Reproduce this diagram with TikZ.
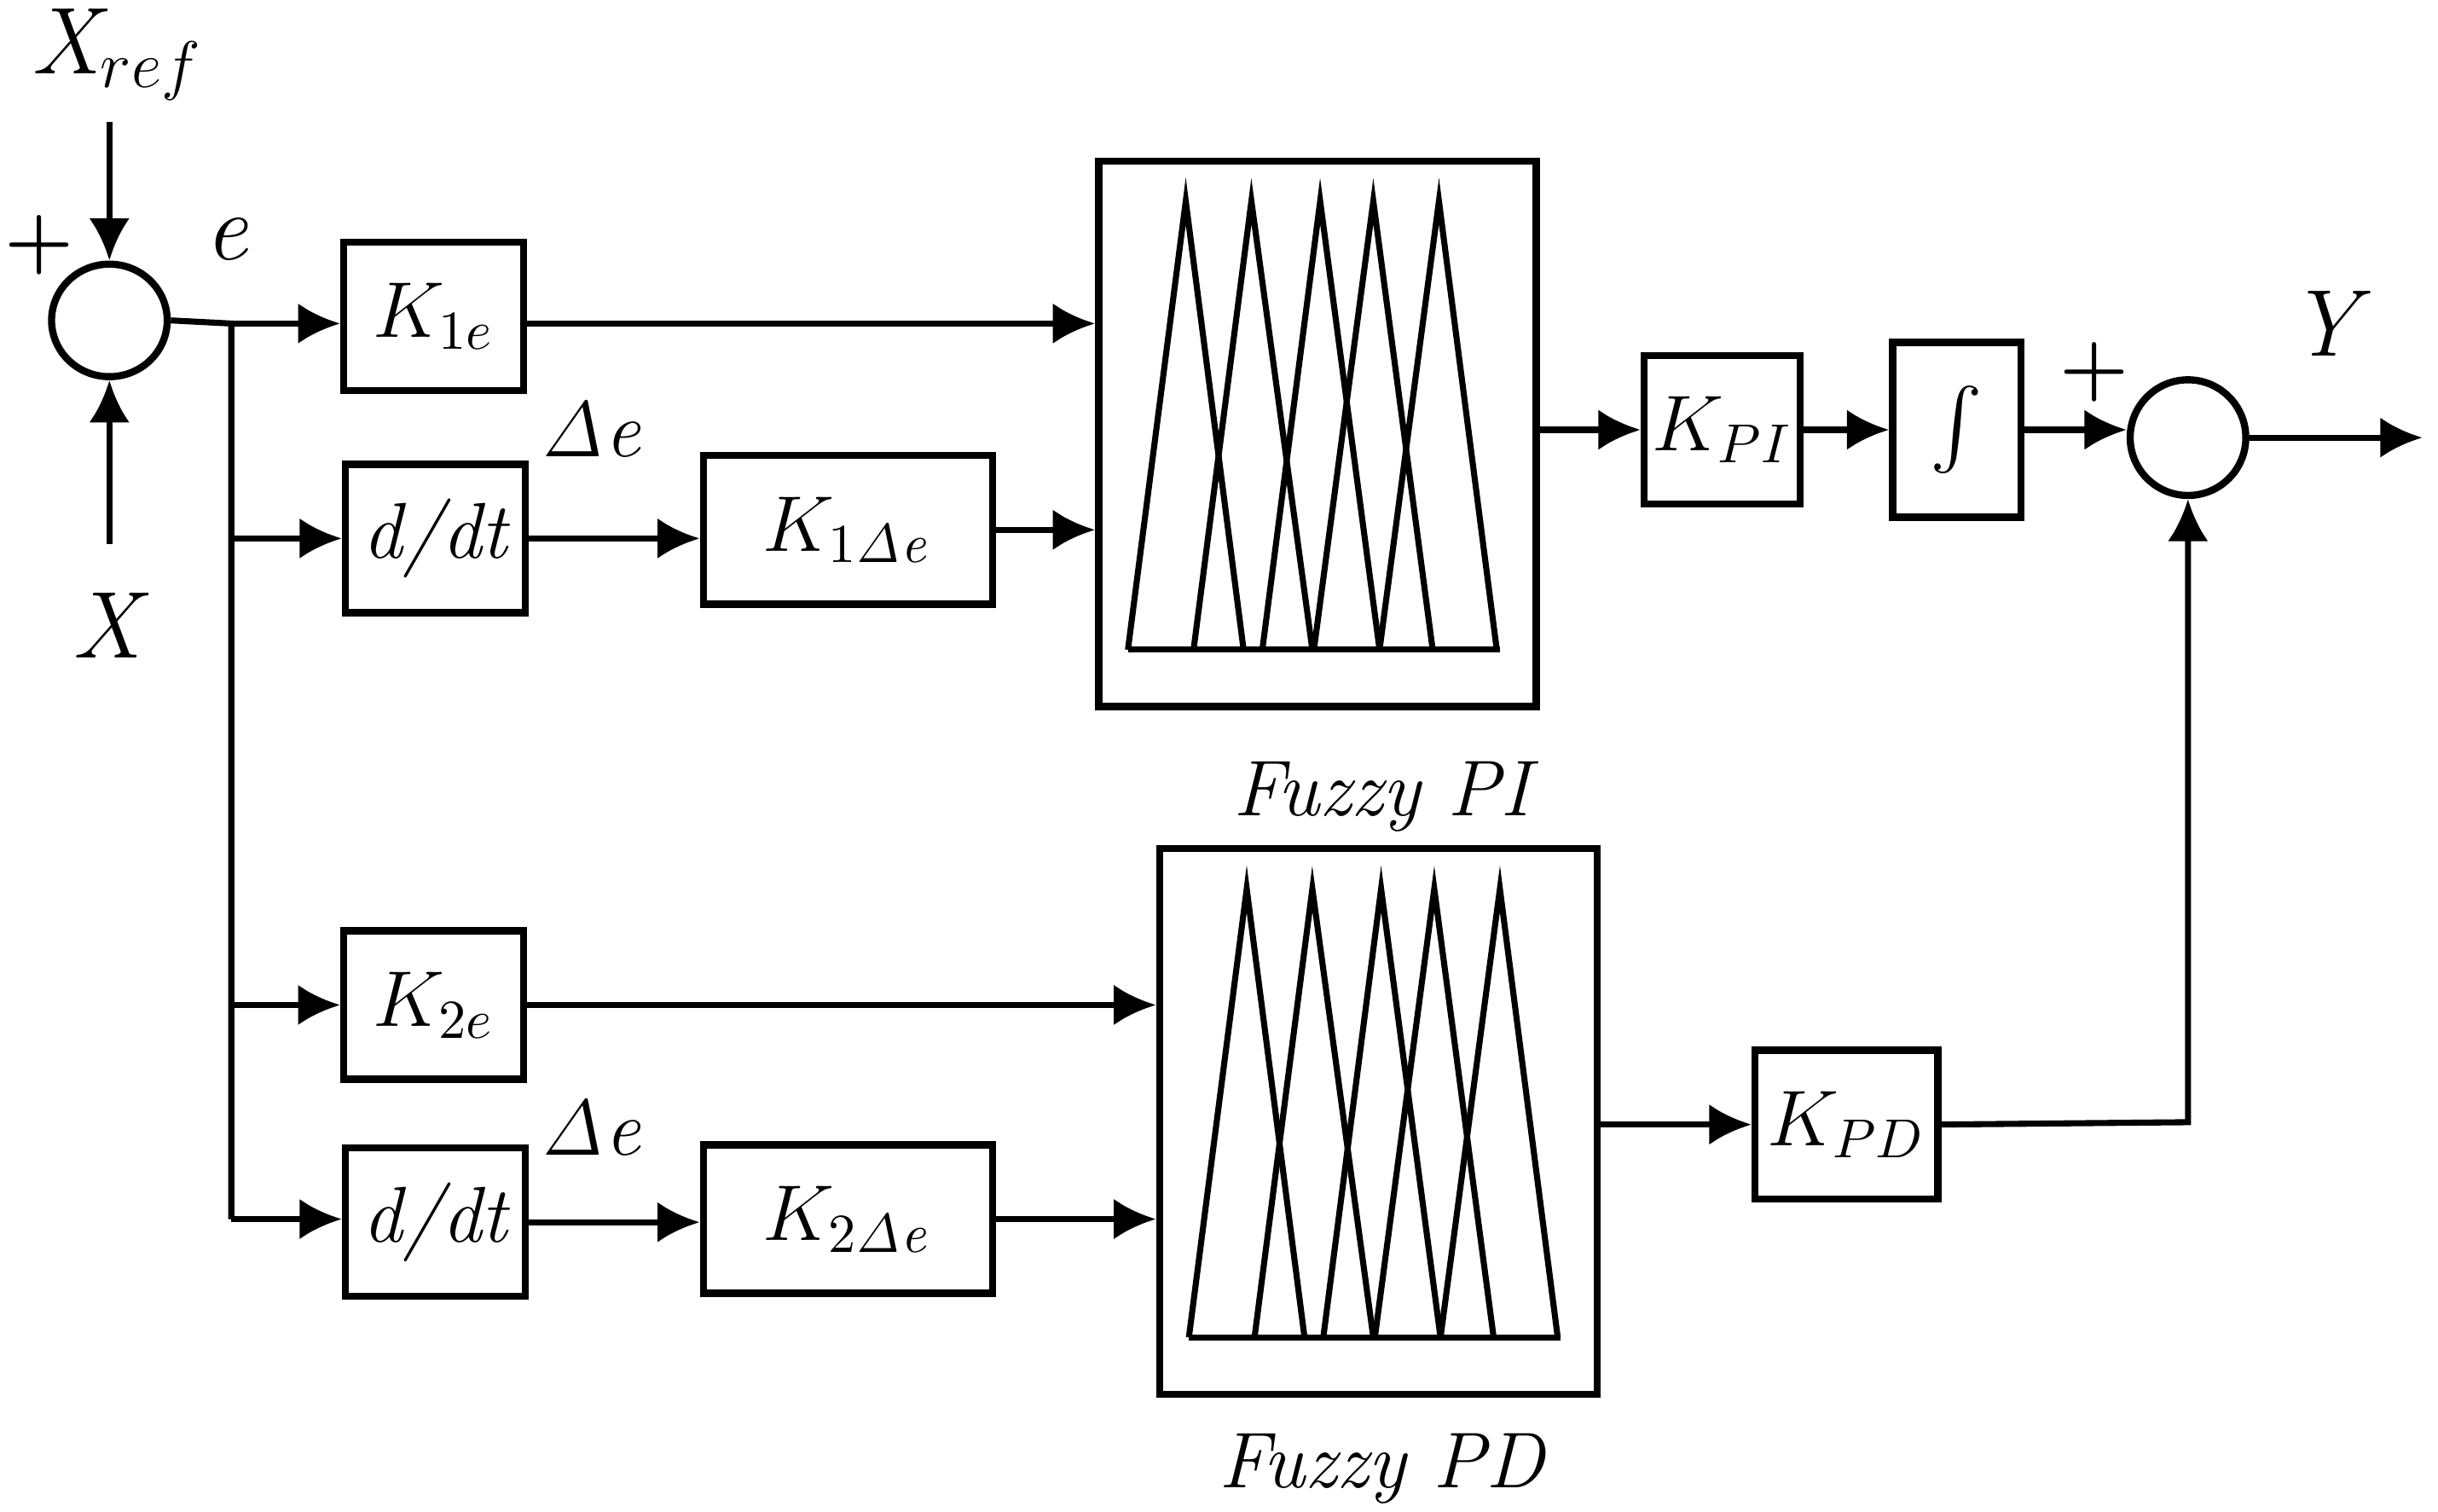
\documentclass[tikz,border=0pt]{standalone}
\usepackage{amsmath}
\usetikzlibrary{arrows.meta, positioning, calc, shapes.geometric}

% triangles of a fuzzy block, relative to its north west corner
\newcommand{\fuzzyset}[1]{%
  \draw[line width=1.1pt] ($(#1.north west)+(0.21,-3.15)$) -- ($(#1.north west)+(2.59,-3.15)$);
  \foreach \a/\p/\b in {0.21/0.58/0.95, 0.63/1.00/1.39, 1.07/1.44/1.82, 1.40/1.78/2.16, 1.82/2.20/2.57}
    \draw[line width=1.1pt] ($(#1.north west)+(\a,-3.15)$) -- ($(#1.north west)+(\p,-0.28)$) -- ($(#1.north west)+(\b,-3.15)$);
}

\begin{document}
\begin{tikzpicture}[
    line width=1.1pt,
    block/.style={rectangle, draw, line width=1.3pt, minimum width=1.15cm, minimum height=0.95cm, inner sep=0pt, font=\Large\itshape},
    wide/.style={block, minimum width=1.85cm},
    fuzzy/.style={rectangle, draw, line width=1.3pt, minimum width=2.8cm, minimum height=3.49cm, inner sep=0pt},
    summer/.style={ellipse, draw, line width=1.3pt, minimum width=0.74cm, minimum height=0.72cm, inner sep=0pt},
    arrow/.style={-{Latex[length=0.27cm, width=0.26cm]}},
    lbl/.style={font=\Large\itshape}
]
\useasboundingbox (0,0) rectangle (15.6,-9.67);

% summing points
\node[summer] (sum1) at (0.70,-2.05) {};
\node[summer, minimum width=0.74cm, minimum height=0.74cm] (sum2) at (14.00,-2.80) {};

% upper path
\node[block] (k1e) at (2.775,-2.025) {$K_{1e}$};
\node[block] (dt1) at (2.785,-3.445) {d/dt};
\node[wide] (k1de) at (5.425,-3.39) {$K_{1\mathit{\Delta e}}$};
\node[fuzzy] (fpi) at (8.43,-2.775) {};
\node[block, minimum width=1.0cm] (kpi) at (11.02,-2.75) {$K_{PI}$};
\node[block, minimum width=0.82cm, minimum height=1.12cm] (intg) at (12.52,-2.75) {$\int$};

% lower path
\node[block] (k2e) at (2.775,-6.43) {$K_{2e}$};
\node[block] (dt2) at (2.785,-7.82) {d/dt};
\node[wide] (k2de) at (5.425,-7.80) {$K_{2\mathit{\Delta e}}$};
\node[fuzzy] (fpd) at (8.82,-7.175) {};
\node[block, minimum width=1.17cm] (kpd) at (11.815,-7.195) {$K_{PD}$};

\fuzzyset{fpi}
\fuzzyset{fpd}

% labels
\node[lbl, font=\LARGE\itshape] (xref) at (0.75,-0.35) {X$_{ref}$};
\node[lbl, font=\LARGE\itshape] (xin) at (0.68,-4.00) {X};
\node[font=\Large\bfseries] (p1) at (0.25,-1.57) {+};
\node[font=\Large\bfseries] (p2) at (13.40,-2.38) {+};
\node[lbl, font=\LARGE\itshape] (err) at (1.45,-1.53) {e};
\node[lbl] (de1) at (3.80,-2.75) {$\mathit{\Delta e}$};
\node[lbl] (de2) at (3.80,-7.22) {$\mathit{\Delta e}$};
\node[lbl, font=\LARGE\itshape] (yout) at (14.87,-2.07) {Y};
\node[lbl] (lpi) at (8.84,-5.10) {Fuzzy PI};
\node[lbl] (lpd) at (8.84,-9.40) {Fuzzy PD};

% connectors
\coordinate (xreftop) at (0.70,-0.78);
\coordinate (xbot) at (0.70,-3.48);
\coordinate (br) at (1.48,-2.07);
\coordinate (brlow) at (1.48,-7.80);
\coordinate (yend) at (15.50,-2.80);
\coordinate (kpdcorner) at (14.00,-7.18);

\draw[arrow] (xreftop) -- (sum1.north);
\draw[arrow] (xbot) -- (sum1.south);
\draw (sum1.east) -- (br) -- (brlow);
\draw[arrow] (br) -- (k1e.west |- br);
\draw[arrow] (br |- dt1) -- (dt1.west);
\draw[arrow] (br |- k2e) -- (k2e.west);
\draw[arrow] (brlow) -- (dt2.west |- brlow);
\draw[arrow] (k1e.east |- br) -- (fpi.west |- br);
\draw[arrow] (dt1.east) -- (k1de.west |- dt1);
\draw[arrow] (k1de.east) -- (fpi.west |- k1de);
\draw[arrow] (k2e.east) -- (fpd.west |- k2e);
\draw[arrow] (dt2.east) -- (k2de.west |- dt2);
\draw[arrow] (k2de.east) -- (fpd.west |- k2de);
\draw[arrow] (fpi.east |- kpi) -- (kpi.west);
\draw[arrow] (kpi.east) -- (intg.west);
\draw[arrow] (intg.east) -- (sum2.west |- intg);
\draw[arrow] (fpd.east |- kpd) -- (kpd.west);
\draw[arrow] (kpd.east) -- (kpdcorner) -- (sum2.south);
\draw[arrow] (sum2.east) -- (yend);
\end{tikzpicture}
\end{document}
